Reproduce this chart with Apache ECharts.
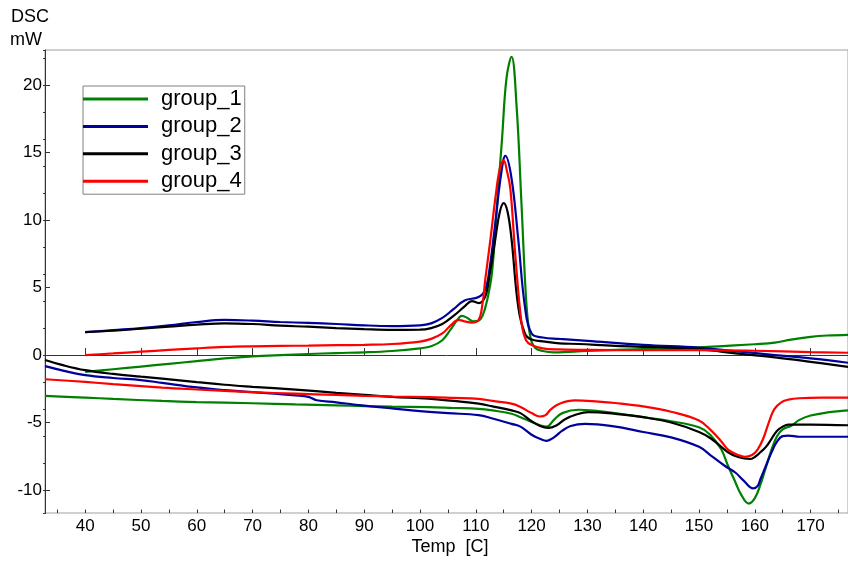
<!DOCTYPE html>
<html>
<head>
<meta charset="utf-8">
<script src="https://cdn.jsdelivr.net/npm/echarts@6/dist/echarts.min.js"></script>
<style>html,body{margin:0;padding:0;background:#fff}#c{width:848px;height:561px}</style>
</head>
<body>
<div id="c"></div>
<script>
// ---------- data (Temp [C], DSC [mW]) ----------
var groups = ['group_1', 'group_2', 'group_3', 'group_4'];
var colors = ['#008000', '#00009c', '#000000', '#ff0000'];

var g1_heat = [[40,-1.25],[45,-1.05],[50,-0.85],[55,-0.65],[60,-0.45],[65,-0.25],[70,-0.1],[75,0.0],[80,0.08],[85,0.15],[90,0.2],[95,0.3],[100,0.5],[102,0.65],[104,1.1],[105.5,1.9],[106.5,2.5],[107.5,2.9],[108.5,2.75],[109.5,2.5],[110.5,2.55],[111.2,2.9],[112,4.0],[112.9,6.1],[113.8,11.1],[114.7,16.0],[115.5,20.5],[116.4,22.1],[117.3,18.5],[118.2,11.1],[119.1,3.6],[119.8,1.3],[120.6,0.55],[122,0.3],[124,0.2],[130,0.3],[140,0.45],[150,0.57],[155,0.68],[160,0.8],[163.6,0.92],[166.5,1.15],[170,1.35],[173,1.45],[176.7,1.5]];
var g2_heat = [[40,1.7],[45,1.85],[50,2.0],[55,2.2],[60,2.45],[65,2.6],[70,2.55],[75,2.45],[80,2.38],[85,2.3],[90,2.2],[95,2.15],[100,2.2],[102,2.35],[104,2.75],[106,3.4],[108,4.05],[110.5,4.3],[111.7,4.85],[112.5,6.5],[113.5,9.8],[114.5,13.3],[115.3,14.75],[116.4,13.1],[117.6,8.6],[118.8,3.6],[120,1.6],[122,1.3],[125,1.2],[130,1.05],[140,0.75],[150,0.55],[155,0.35],[163.6,0.0],[170,-0.25],[176.7,-0.57]];
var g3_heat = [[40,1.7],[45,1.8],[50,1.95],[55,2.1],[60,2.25],[65,2.35],[70,2.3],[75,2.18],[80,2.1],[85,2.0],[90,1.92],[95,1.87],[100,1.88],[102,2.0],[104,2.3],[106,2.9],[108,3.6],[109.3,4.0],[110.5,3.85],[111.7,4.35],[112.5,6.0],[113.5,8.6],[114.3,10.6],[115,11.25],[115.7,10.6],[116.4,8.6],[117.6,3.6],[118.8,1.6],[120,1.15],[122.4,1.0],[125,0.87],[128.4,0.82],[135,0.68],[142.7,0.58],[150.4,0.42],[157,0.1],[163.6,-0.17],[170,-0.5],[176.7,-0.87]];
var g4_heat = [[40,0.0],[45,0.12],[50,0.25],[55,0.38],[60,0.5],[65,0.6],[70,0.65],[75,0.68],[80,0.7],[85,0.73],[90,0.76],[95,0.82],[100,1.0],[102,1.2],[104,1.6],[105.5,2.2],[106.9,2.6],[108,2.5],[109.3,2.41],[110.5,2.6],[111.2,3.8],[111.7,5.6],[112.6,8.5],[113.5,11.6],[114.3,13.8],[115,14.4],[115.6,13.6],[116.2,12.3],[117.1,7.3],[118.2,2.36],[119,1.1],[120,0.75],[122,0.5],[124.8,0.42],[130,0.38],[140,0.37],[150,0.37],[160,0.32],[170,0.22],[176.7,0.17]];

var g1_cool = [[32.8,-3.03],[40,-3.15],[45,-3.25],[53.8,-3.4],[60,-3.48],[70,-3.57],[77.7,-3.66],[85,-3.73],[90,-3.78],[95,-3.82],[101.5,-3.86],[106,-3.92],[110.5,-3.98],[113,-4.1],[116.4,-4.35],[118,-4.6],[120,-4.95],[121.5,-5.2],[122.7,-5.3],[124,-4.8],[125.5,-4.3],[128.4,-4.05],[132,-4.15],[135,-4.3],[140,-4.6],[145,-4.9],[150,-5.35],[152,-5.9],[154,-7.0],[155.2,-8.2],[156.5,-9.4],[157.5,-10.3],[158.9,-11.0],[160,-10.6],[161,-9.6],[162,-8.3],[163,-7.0],[164,-6.0],[165,-5.5],[166.6,-5.22],[168,-4.8],[170,-4.48],[173,-4.25],[176.7,-4.1]];
var g2_cool = [[32.8,-0.82],[36,-1.15],[40,-1.49],[45,-1.7],[50,-1.85],[53.8,-2.06],[60,-2.4],[65,-2.6],[70,-2.75],[77.7,-2.99],[80,-3.1],[81.5,-3.35],[85,-3.5],[89.6,-3.73],[95,-3.95],[100,-4.15],[105,-4.3],[110.5,-4.45],[113,-4.7],[116.4,-5.1],[118,-5.3],[120,-5.9],[121.5,-6.2],[122.7,-6.35],[124,-6.1],[125.5,-5.6],[127,-5.25],[129.6,-5.1],[135,-5.3],[140,-5.7],[145,-6.1],[150,-6.8],[152.2,-7.46],[154.6,-8.2],[156.5,-8.7],[158,-9.3],[159.7,-9.87],[160.5,-9.7],[161,-9.2],[162,-8.2],[163,-7.2],[164,-6.4],[165,-6.0],[166,-5.97],[168,-6.05],[170,-6.05],[176.7,-6.05]];
var g3_cool = [[32.8,-0.37],[36,-0.75],[40,-1.12],[45,-1.4],[50,-1.6],[53.8,-1.74],[60,-2.0],[65,-2.2],[70,-2.35],[77.7,-2.56],[85,-2.8],[90,-2.95],[95,-3.1],[101.5,-3.23],[106,-3.4],[110.5,-3.6],[113,-3.8],[116.4,-4.1],[118,-4.3],[120,-4.9],[121.5,-5.25],[123,-5.4],[124.5,-5.2],[126,-4.75],[128,-4.4],[130.2,-4.23],[135,-4.35],[140,-4.6],[145,-5.0],[150,-5.7],[152.2,-6.2],[155.2,-7.2],[157,-7.55],[159.1,-7.7],[160,-7.55],[161,-7.2],[162,-6.8],[163,-6.2],[164,-5.6],[165,-5.3],[166,-5.15],[170,-5.15],[176.7,-5.2]];
var g4_cool = [[32.8,-1.79],[40,-1.99],[45,-2.15],[53.8,-2.41],[60,-2.55],[65,-2.65],[70,-2.75],[77.7,-2.86],[85,-2.95],[90,-3.02],[95,-3.07],[101.5,-3.11],[106,-3.17],[110.5,-3.24],[113,-3.4],[116.4,-3.6],[118,-3.85],[120,-4.3],[121.5,-4.55],[122.5,-4.45],[123.5,-4.0],[125,-3.6],[127.8,-3.36],[132,-3.45],[135,-3.55],[140,-3.8],[145,-4.2],[150,-4.85],[152.2,-5.6],[154,-6.4],[155.2,-7.0],[157,-7.4],[158.2,-7.54],[159.5,-7.4],[160.5,-7.0],[161.5,-6.2],[162.5,-5.0],[163.5,-4.0],[164.8,-3.48],[166,-3.3],[168,-3.2],[172,-3.16],[176.7,-3.16]];

var heat = [g1_heat, g2_heat, g3_heat, g4_heat];
var cool = [g1_cool, g2_cool, g3_cool, g4_cool];

var xMin = 32.8, xMax = 176.7, yMin = -11.7, yMax = 22.6;
var FONT = 'Liberation Sans, Arial, sans-serif';

// ---------- chart ----------
var chart = echarts.init(document.getElementById('c'), null, {renderer: 'canvas'});
var series = [];
for (var i = 0; i < groups.length; i++) {
  [heat[i], cool[i]].forEach(function (d) {
    series.push({
      name: groups[i], type: 'line', data: d, xAxisIndex: 0, yAxisIndex: 0,
      showSymbol: false, smooth: 0.4,
      lineStyle: {color: colors[i], width: 2.2}, itemStyle: {color: colors[i]},
      emphasis: {disabled: true}, z: 2 + i
    });
  });
}

var gridLeft = 45, gridRight = -2, gridTop = 50, gridBottom = 48;
var gridW = 848 - gridLeft - gridRight, gridH = 561 - gridTop - gridBottom;
var axisColor = '#333333';

chart.setOption({
  animation: false,
  backgroundColor: '#ffffff',
  grid: {left: gridLeft, right: gridRight, top: gridTop, bottom: gridBottom,
         show: true, borderColor: '#a0a0a0', borderWidth: 1, containLabel: false},
  legend: {
    data: groups, left: 83, top: 86, orient: 'vertical',
    icon: 'rect', itemWidth: 65, itemHeight: 3, itemGap: 5.4,
    padding: [2, 3, 2, 0], borderColor: '#808080', borderWidth: 1, backgroundColor: '#fff',
    textStyle: {fontFamily: FONT, fontSize: 22, lineHeight: 22, color: '#000', padding: [0, 0, 0, 8]},
    selectedMode: false
  },
  xAxis: [
    {type: 'value', min: xMin, max: xMax, minInterval: 10, maxInterval: 10,
     axisLine: {show: true, lineStyle: {color: axisColor, width: 1}},
     axisTick: {show: true, inside: true, length: 7, lineStyle: {color: axisColor}},
     axisLabel: {fontFamily: FONT, fontSize: 17, color: '#000', margin: 5, showMinLabel: false, showMaxLabel: false},
     splitLine: {show: false}},
    {type: 'value', position: 'top', offset: -gridH, min: xMin, max: xMax, minInterval: 5, maxInterval: 5,
     axisLine: {show: false},
     axisTick: {show: true, inside: false, length: 3.5, lineStyle: {color: axisColor}},
     axisLabel: {show: false}, splitLine: {show: false}}
  ],
  yAxis: [
    {type: 'value', min: yMin, max: yMax, minInterval: 5, maxInterval: 5,
     axisLine: {show: true, lineStyle: {color: axisColor, width: 1}},
     axisTick: {show: true, inside: true, length: 5, lineStyle: {color: axisColor}},
     axisLabel: {fontFamily: FONT, fontSize: 17, color: '#000', margin: 3, showMinLabel: false, showMaxLabel: false},
     splitLine: {show: false}},
    {type: 'value', position: 'right', offset: -gridW, min: yMin, max: yMax, minInterval: 2, maxInterval: 2,
     axisLine: {show: false},
     axisTick: {show: true, inside: false, length: 3, lineStyle: {color: axisColor}},
     axisLabel: {show: false}, splitLine: {show: false}}
  ],
  graphic: [
    {type: 'text', left: 11, top: 8, style: {text: 'DSC', fontFamily: FONT, fontSize: 18, fill: '#000'}},
    {type: 'text', left: 10, top: 31, style: {text: 'mW', fontFamily: FONT, fontSize: 18, fill: '#000'}},
    {type: 'text', x: 450, y: 547, style: {text: 'Temp  [C]', fontFamily: FONT, fontSize: 18, fill: '#000', align: 'center', verticalAlign: 'middle'}}
  ],
  series: series
});
</script>
</body>
</html>
